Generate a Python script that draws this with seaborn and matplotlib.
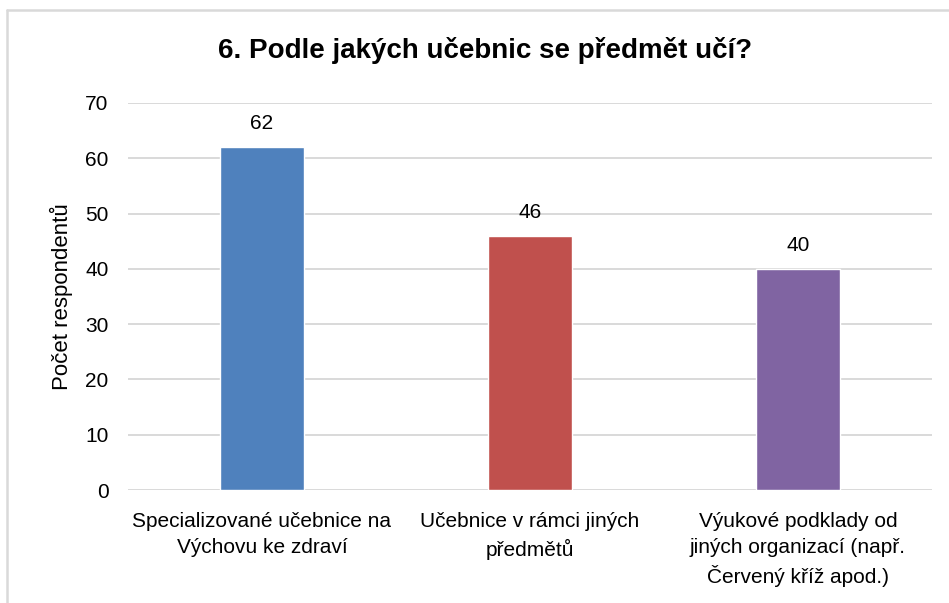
import matplotlib
matplotlib.use("Agg")
import matplotlib.pyplot as plt
from matplotlib.lines import Line2D
import seaborn as sns
import pandas as pd

categories = ["Specializované učebnice na\nVýchovu ke zdraví",
              "Učebnice v rámci jiných\npředmětů",
              "Výukové podklady od\njiných organizací (např.\nČervený kříž apod.)"]
values = [62, 46, 40]
colors = ["#4F81BD", "#C0504D", "#8064A2"]
yticks = [0, 10, 20, 30, 40, 50, 60, 70]
title = "6. Podle jakých učebnic se předmět učí?"
ylabel = "Počet respondentů"

sns.set_theme(style="white")
plt.rcParams["font.family"] = ["Liberation Sans", "DejaVu Sans"]
plt.rcParams["text.color"] = "black"
plt.rcParams["axes.labelcolor"] = "black"
plt.rcParams["xtick.color"] = "black"
plt.rcParams["ytick.color"] = "black"

df = pd.DataFrame({"cat": categories, "val": values})

fig = plt.figure(figsize=(9.49, 6.03), dpi=100)
ax = fig.add_axes([128/949, 1-490/603, (932-128)/949, (490-103)/603])
sns.barplot(data=df, x="cat", y="val", hue="cat", palette=colors, legend=False,
            width=0.313, ax=ax, saturation=1)
ax.set_ylim(0, 70)
ax.set_yticks(yticks)
ax.set_yticklabels([str(t) for t in yticks], fontsize=15)
ax.tick_params(axis="x", labelsize=15, length=0, pad=16)
ax.tick_params(axis="y", length=0, pad=14)
ax.set_xlabel("")
ax.set_ylabel(ylabel, fontsize=16, labelpad=9)
for lbl in ax.get_xticklabels():
    lbl.set_linespacing(1.45)
ax.grid(axis="y", color="#D9D9D9", linewidth=1.4)
ax.set_axisbelow(True)
for s in ax.spines.values():
    s.set_visible(False)
for c in ax.containers:
    ax.bar_label(c, fontsize=15, padding=10, color="black")

fig.text(485/949, 1-50/603, title, ha="center", va="center", fontsize=20, fontweight="bold")

# chart border (left and top)
fig.add_artist(Line2D([7/949, 7/949], [0, 1-10/603], transform=fig.transFigure, color="#D9D9D9", linewidth=1.8))
fig.add_artist(Line2D([7/949, 1], [1-10/603, 1-10/603], transform=fig.transFigure, color="#D9D9D9", linewidth=1.8))

fig.savefig("out.png", dpi=100)
